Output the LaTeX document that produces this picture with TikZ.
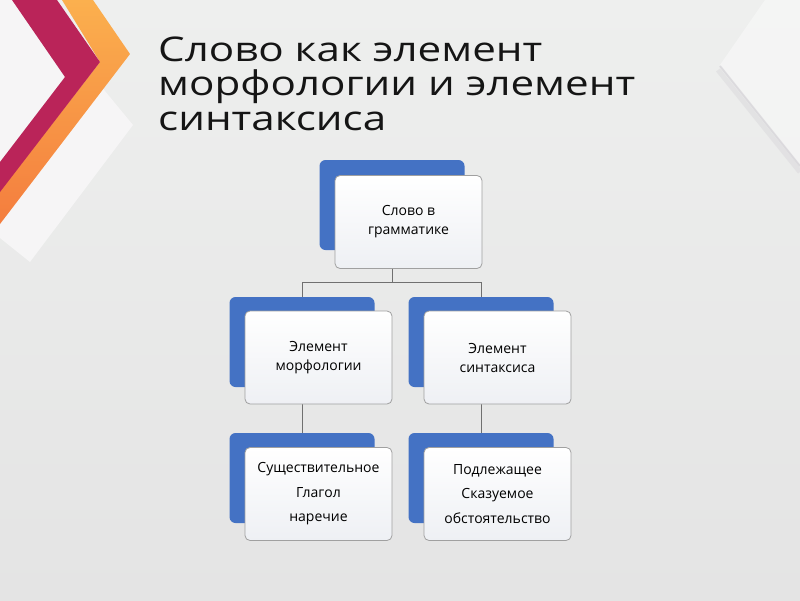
\documentclass[tikz,border=0pt]{standalone}
\usepackage{fontspec}
\setmainfont{Open Sans}
\newfontfamily\titlefont[FakeStretch=1.24]{Open Sans}
\usetikzlibrary{calc}
\definecolor{bgtop}{HTML}{EEEFEE}
\definecolor{bgbot}{HTML}{E4E4E4}
\definecolor{boxblue}{HTML}{4472C4}
\definecolor{boxbot}{HTML}{EEF0F4}
\definecolor{crim}{HTML}{BA2459}
\definecolor{orgtop}{HTML}{FBB04E}
\definecolor{orgbot}{HTML}{F47D3E}
\definecolor{linegray}{HTML}{707070}
\definecolor{bordergray}{HTML}{A0A0A0}
\definecolor{titlecol}{HTML}{151515}
\definecolor{panelwhite}{HTML}{F6F5F6}
\definecolor{shadowgray}{HTML}{C8C4CC}
\begin{document}
\begin{tikzpicture}[x=1pt,y=-1pt,
  backbox/.style={fill=boxblue, rounded corners=6pt, minimum width=145pt, minimum height=90pt, inner sep=0pt},
  frontbox/.style={draw=bordergray, line width=0.8pt, top color=white, bottom color=boxbot, rounded corners=5pt, minimum width=147pt, minimum height=93pt, inner sep=0pt, align=center, font=\fontsize{14}{19}\selectfont, text=black},
  threeline/.style={font=\fontsize{14}{24.5}\selectfont},
  link/.style={draw=linegray, line width=1pt}]
% background
\shade[top color=bgtop, bottom color=bgbot] (0,0) rectangle (800,600);
\useasboundingbox (0,0) rectangle (800,600);
% top-left decoration
\fill[panelwhite] (0,0) -- (12,0) -- (65,77) -- (0,162) -- cycle;
\fill[panelwhite] (100,85) -- (133,125) -- (30,262) -- (0,238) -- (0,200) -- cycle;
\shade[top color=orgtop, bottom color=orgbot] (62,0) -- (93,0) -- (130,54) -- (0,224) -- (0,191) -- (100,62) -- cycle;
\fill[crim] (12,0) -- (57,0) -- (100,62) -- (0,192) -- (0,162) -- (65,77) -- cycle;
% top-right decoration
\fill[white, opacity=0.4] (765,0) -- (800,0) -- (800,165) -- (720,65) -- cycle;
\draw[shadowgray, line width=5pt, opacity=0.25] (718,70) -- (800,172);
\draw[shadowgray, line width=2pt, opacity=0.45] (720,66) -- (800,166);
% title
\node[anchor=base west, align=left, inner sep=0pt, font=\titlefont\fontsize{34}{34.2}\selectfont, text=titlecol] (title) at (158,130) {Слово как элемент\\морфологии и элемент\\синтаксиса};
% back boxes
\node[backbox] (tb) at (392,205) {};
\node[backbox] (mlb) at (302,342) {};
\node[backbox] (mrb) at (481,342) {};
\node[backbox] (blb) at (302,478) {};
\node[backbox] (brb) at (481,478) {};
% connectors
\draw[link] (tb.south) -- ++(0,32) -| (mlb.north);
\draw[link] (tb.south) -- ++(0,32) -| (mrb.north);
\draw[link] (mlb.south) -- (blb.north);
\draw[link] (mrb.south) -- (brb.north);
% front boxes
\node[frontbox] (tf) at (408.5,222) {Слово в\\грамматике};
\node[frontbox] (mlf) at (318.5,357.5) {Элемент\\морфологии};
\node[frontbox] (mrf) at (497.5,357.5) {Элемент\\синтаксиса};
\node[frontbox, threeline] (blf) at (318.5,494) {Существительное\\Глагол\\наречие};
\node[frontbox, threeline] (brf) at (497.5,494) {Подлежащее\\Сказуемое\\обстоятельство};
\end{tikzpicture}
\end{document}
